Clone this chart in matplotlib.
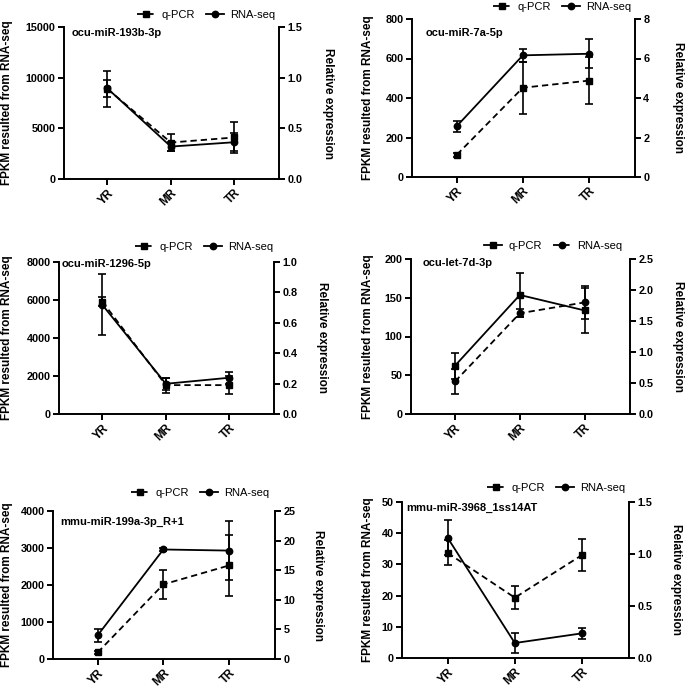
import numpy as np
import matplotlib
matplotlib.use('Agg')
import matplotlib.pyplot as plt
from matplotlib.lines import Line2D

plt.rcParams['font.family'] = ['Liberation Sans', 'DejaVu Sans']

W, H = 685, 688

# Data
groups = ['YR', 'MR', 'TR']

names = ['ocu-miR-193b-3p', 'ocu-miR-7a-5p', 'ocu-miR-1296-5p',
         'ocu-let-7d-3p', 'mmu-miR-199a-3p_R+1', 'mmu-miR-3968_1ss14AT']

# RNA-seq (FPKM, left axis)
rna_193b = [8950, 3200, 3630]
rna_193b_err = [820, 460, 900]
rna_7a = [258, 616, 624]
rna_7a_err = [28, 32, 73]
rna_1296 = [5750, 1590, 1910]
rna_1296_err = [1600, 330, 320]
rna_let7d = [42, 130, 144]
rna_let7d_err = [16.5, 5, 21.6]
rna_199a = [640, 2960, 2930]
rna_199a_err = [180, 40, 790]
rna_3968 = [38.5, 4.8, 7.9]
rna_3968_err = [5.6, 3.2, 1.7]

# q-PCR (relative expression, right axis)
qpcr_193b = [0.89, 0.36, 0.41]
qpcr_193b_err = [0.18, 0.08, 0.15]
qpcr_7a = [1.13, 4.52, 4.88]
qpcr_7a_err = [0.1, 1.32, 1.18]
qpcr_1296 = [0.74, 0.19, 0.19]
qpcr_1296_err = [0.03, 0.05, 0.06]
qpcr_let7d = [0.78, 1.92, 1.67]
qpcr_let7d_err = [0.21, 0.35, 0.36]
qpcr_199a = [1.1, 12.6, 15.8]
qpcr_199a_err = [0.3, 2.45, 5.1]
qpcr_3968 = [1.01, 0.58, 0.99]
qpcr_3968_err = [0.12, 0.11, 0.15]

left_max = [15000, 800, 8000, 200, 4000, 50]
left_step = [5000, 200, 2000, 50, 1000, 10]
right_max = [1.5, 8, 1.0, 2.5, 25, 1.5]
right_step = [0.5, 2, 0.2, 0.5, 5, 0.5]
right_fmt = ['%.1f', '%d', '%.1f', '%.1f', '%d', '%.1f']

rna = [rna_193b, rna_7a, rna_1296, rna_let7d, rna_199a, rna_3968]
rna_err = [rna_193b_err, rna_7a_err, rna_1296_err, rna_let7d_err, rna_199a_err, rna_3968_err]
qpcr = [qpcr_193b, qpcr_7a, qpcr_1296, qpcr_let7d, qpcr_199a, qpcr_3968]
qpcr_err = [qpcr_193b_err, qpcr_7a_err, qpcr_1296_err, qpcr_let7d_err, qpcr_199a_err, qpcr_3968_err]

# panel boxes in pixels: left, right, top, bottom
boxes = [(64, 279, 27, 179), (412, 635, 19, 177),
         (59, 274, 262, 414), (411, 630, 259, 414),
         (53, 275, 511, 659), (402, 629, 502, 658)]
title_pos = [(72, 33), (426, 33), (62, 264), (423, 263), (60, 522), (406, 508)]
legend_pos = [(281, 15), (637, 7), (279, 247), (628, 246), (275, 493), (631, 488)]
ylab_left_x = [7, 368, 7, 368, 7, 368]
ylab_right_x = [328, 678, 322, 678, 318, 676]

dash = (0, (3.5, 2.2))
lw = 1.3

fig = plt.figure(figsize=(W / 100, H / 100), dpi=100)

for i in range(6):
    l, r, t, b = boxes[i]
    ax = fig.add_axes([l / W, 1 - b / H, (r - l) / W, (b - t) / H])
    ax2 = ax.twinx()
    x = np.arange(len(groups))

    # ocu-let-7d-3p has the line styles swapped
    if i == 3:
        q_ls, r_ls = '-', dash
    else:
        q_ls, r_ls = dash, '-'

    ax.errorbar(x, rna[i], yerr=rna_err[i], color='black', ls=r_ls, lw=lw,
                marker='o', ms=4.6, capsize=2.8, elinewidth=1.2, capthick=1.2,
                clip_on=False, zorder=3)
    ax2.errorbar(x, qpcr[i], yerr=qpcr_err[i], color='black', ls=q_ls, lw=lw,
                 marker='s', ms=5, capsize=2.8, elinewidth=1.2, capthick=1.2,
                 clip_on=False, zorder=3)

    ax.set_xlim(-0.68, 2.7)
    ax.set_ylim(0, left_max[i])
    ax2.set_ylim(0, right_max[i])
    ax.set_yticks(np.arange(0, left_max[i] + left_step[i] / 2, left_step[i]))
    rt = np.arange(0, right_max[i] + right_step[i] / 2, right_step[i])
    ax2.set_yticks(rt)
    ax2.set_yticklabels([right_fmt[i] % v for v in rt])
    ax.set_xticks(x)
    ax.set_xticklabels(groups, rotation=45, ha='right', rotation_mode='anchor')

    for a in (ax, ax2):
        a.spines['top'].set_visible(False)
        for s in a.spines.values():
            s.set_linewidth(1.4)
        a.tick_params(width=1.4, length=4, labelsize=7.8, pad=2)
        for lab in a.get_xticklabels() + a.get_yticklabels():
            lab.set_fontweight('bold')
    ax.tick_params(axis='x', labelsize=8.3, pad=2)
    ax.spines['right'].set_visible(False)
    ax2.spines['left'].set_visible(False)
    ax2.spines['bottom'].set_visible(False)

    fig.text(title_pos[i][0] / W, 1 - title_pos[i][1] / H, names[i],
             fontsize=8, fontweight='bold', va='center', ha='left')

    yc = 1 - (t + b) / 2 / H
    fig.text(ylab_left_x[i] / W, yc, 'FPKM resulted from RNA-seq', rotation=90,
             fontsize=8.5, fontweight='bold', va='center', ha='center')
    fig.text(ylab_right_x[i] / W, yc, 'Relative expression', rotation=270,
             fontsize=8.5, fontweight='bold', va='center', ha='center')

    handles = [Line2D([], [], color='black', ls=q_ls, lw=lw, marker='s', ms=5),
               Line2D([], [], color='black', ls=r_ls, lw=lw, marker='o', ms=4.6)]
    fig.legend(handles, ['q-PCR', 'RNA-seq'], ncol=2, frameon=False,
               fontsize=8, loc='center right', handlelength=1.6,
               handletextpad=0.6, columnspacing=1.0, borderpad=0,
               bbox_to_anchor=(legend_pos[i][0] / W, 1 - legend_pos[i][1] / H))

fig.savefig('out.png', dpi=100)
